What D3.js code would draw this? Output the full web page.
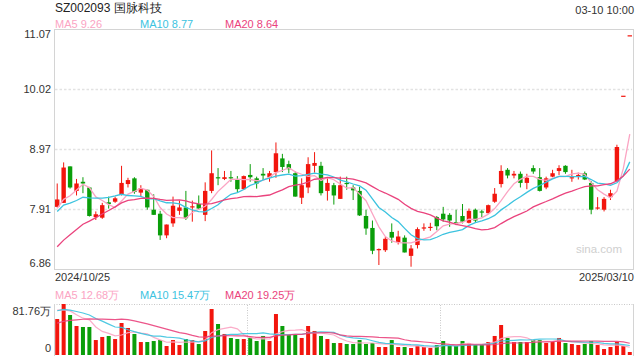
<!DOCTYPE html>
<html><head><meta charset="utf-8">
<script src="https://cdn.jsdelivr.net/npm/d3@7/dist/d3.min.js"></script>
<style>body{margin:0;background:#fff}svg{display:block}text{font-family:"Liberation Sans",Arial,sans-serif}</style>
</head><body><svg id="c" width="640" height="360"></svg>
<script>
const title = "SZ002093 国脉科技";
const timeLabel = "03-10 10:00";
const dateLabels = ["2024/10/25", "2025/03/10"];
const priceTicks = [11.07, 10.02, 8.97, 7.91, 6.86];
const volumeTickMax = 81.76;
const maPeriods = [5, 10, 20];
const priceLegend = [9.26, 8.77, 8.64];
const volumeLegend = [12.68, 15.47, 19.25];

const openP = [7.95,8.02,8.66,8.23,8.39,8.29,7.77,7.76,8.03,8.04,8.16,8.35,8.45,8.20,8.25,7.90,7.83,7.45,7.66,7.88,
7.94,7.95,8.00,7.81,8.23,8.47,8.44,8.47,8.43,8.26,8.51,8.45,8.53,8.47,8.56,8.80,8.70,8.54,8.11,8.29,
8.67,8.67,8.23,8.33,8.09,8.37,8.29,8.23,7.79,7.58,7.19,7.19,7.51,7.33,7.41,7.09,7.28,7.57,7.59,7.77,
7.83,7.81,7.68,7.79,7.67,7.90,7.87,7.84,8.04,8.35,8.60,8.50,8.53,8.37,8.63,8.47,8.29,8.48,8.58,8.67,
8.45,8.50,8.54,8.37,7.92,7.90,8.12,8.40,9.90,10.96];
const highP = [8.36,8.73,8.66,8.44,8.47,8.30,7.87,8.02,8.13,8.13,8.67,8.46,8.47,8.33,8.25,8.17,7.88,7.64,8.13,8.06,
8.23,8.06,8.15,8.38,8.94,8.63,8.58,8.58,8.49,8.50,8.70,8.48,8.63,8.58,9.08,8.88,8.76,8.57,8.45,8.82,
8.91,8.74,8.45,8.37,8.48,8.48,8.33,8.30,7.90,7.71,7.22,7.42,7.66,7.53,7.45,7.28,7.59,7.66,7.67,7.79,
7.95,7.84,7.90,8.00,7.92,7.92,7.90,7.99,8.28,8.68,8.63,8.58,8.57,8.53,8.68,8.63,8.48,8.60,8.68,8.68,
8.60,8.55,8.57,8.40,8.12,8.12,8.25,9.04,9.90,10.96];
const lowP = [7.94,8.02,8.27,8.15,8.19,7.78,7.72,7.74,7.92,8.02,8.15,8.29,8.18,8.14,7.90,7.81,7.37,7.40,7.60,7.81,
7.72,7.69,7.90,7.70,8.19,8.33,8.42,8.39,8.21,8.25,8.39,8.27,8.42,8.39,8.46,8.56,8.54,8.13,8.00,8.19,
8.55,8.15,8.06,7.99,8.09,8.25,8.07,7.79,7.46,7.12,6.93,7.16,7.32,7.29,7.15,6.90,7.22,7.53,7.53,7.54,
7.69,7.60,7.63,7.66,7.66,7.67,7.77,7.83,8.02,8.29,8.45,8.45,8.29,8.26,8.53,8.22,8.26,8.47,8.51,8.53,
8.39,8.43,8.42,7.82,7.90,7.87,8.07,8.40,9.90,10.96];
const closeP = [8.08,8.64,8.29,8.36,8.36,7.79,7.82,7.98,8.00,8.10,8.37,8.42,8.21,8.28,7.94,7.81,7.45,7.64,7.97,7.94,
7.75,7.96,7.92,8.23,8.54,8.46,8.47,8.46,8.26,8.49,8.47,8.36,8.50,8.54,8.89,8.65,8.61,8.13,8.33,8.70,
8.72,8.19,8.37,8.15,8.33,8.35,8.24,7.80,7.57,7.18,7.21,7.39,7.41,7.43,7.15,7.22,7.56,7.59,7.60,7.61,
7.73,7.71,7.66,7.69,7.88,7.71,7.85,7.98,8.18,8.58,8.50,8.53,8.37,8.46,8.57,8.23,8.45,8.54,8.63,8.56,
8.47,8.51,8.43,7.90,7.94,8.09,8.19,9.00,9.90,10.96];
// volume in 万
const volume = [57.7,81.76,64.1,46.5,44.9,44.9,24.0,28.9,30.5,25.6,51.3,43.3,33.7,20.8,20.8,22.4,24.0,14.4,24.0,16.0,
25.6,24.0,17.6,38.5,73.7,49.7,33.7,27.3,25.6,25.6,27.3,22.4,30.5,22.4,65.7,46.5,32.1,32.1,27.3,46.5,
38.5,30.5,25.6,19.2,19.2,17.6,17.6,24.0,17.6,19.2,12.8,12.8,24.0,12.8,12.8,11.2,14.4,12.8,11.2,16.0,
22.4,14.4,14.4,22.4,19.2,16.0,16.0,20.8,30.5,48.1,27.3,20.8,20.8,20.8,24.0,24.0,19.2,20.8,27.3,19.2,
17.6,16.0,17.6,22.4,16.0,9.6,12.8,20.8,14.4,4.8];
// 19 sessions before the first shown one (needed for the moving averages)
const closeHistory = [6.30,6.40,6.50,6.55,6.69,6.60,6.70,6.75,6.85,6.97,7.50,7.95,7.90,7.80,7.91,7.85,7.98,7.86,7.85];
const volumeHistory = [25,28,30,27,32,35,30,33,36,34,60,75,70,68,77,80,72,78,72];

const RED = "#f2150d", GREEN = "#0a9e0a";
const maColors = ["#fba4c3", "#3cc3df", "#ea437d"];

const n = closeP.length;
const idx = d3.range(n);
const svg = d3.select("#c");
svg.append("rect").attr("width",640).attr("height",360).attr("fill","#fff");

const x = d3.scaleBand().domain(idx).range([54, 633]).padding(0);
const cx = i => x(i) + x.bandwidth()/2;
const y = d3.scaleLinear().domain([priceTicks[4], priceTicks[0]]).range([269, 29]);
const yv = d3.scaleLinear().domain([0, volumeTickMax]).range([355, 304]);

function movingAvg(vals, hist, p) {
  const all = hist.concat(vals);
  const off = hist.length;
  return vals.map((_, i) => d3.mean(all.slice(off + i - p + 1, off + i + 1)));
}

// header
svg.append("text").attr("x",55).attr("y",12).attr("font-size",12).attr("fill","#222").text(title);
svg.append("text").attr("x",634).attr("y",14).attr("font-size",11).attr("fill","#333").attr("text-anchor","end").text(timeLabel);
const legX = [55, 140, 225];
maPeriods.forEach((p,k)=>{
  svg.append("text").attr("x",legX[k]).attr("y",28).attr("font-size",11).attr("fill",maColors[k])
    .text("MA"+p+" "+priceLegend[k].toFixed(2));
});

// price grid
[priceTicks[1], priceTicks[2], priceTicks[3]].forEach(v=>{
  svg.append("line").attr("x1",55).attr("x2",632).attr("y1",Math.round(y(v))+0.5).attr("y2",Math.round(y(v))+0.5)
    .attr("stroke","#e2e2e2").attr("stroke-width",1.6).attr("stroke-dasharray","2.5,2");
});
svg.append("rect").attr("x",54.5).attr("y",29.5).attr("width",579).attr("height",240)
  .attr("fill","none").attr("stroke","#d4d4d4");

priceTicks.forEach((v,k)=>{
  let yy = y(v) + 4;
  if (k===0) yy += 5;
  if (k===priceTicks.length-1) yy -= 6;
  svg.append("text").attr("x",51).attr("y",yy).attr("font-size",11).attr("fill","#333")
    .attr("text-anchor","end").text(v.toFixed(2));
});

// candles
const bw = 4.4;
const cg = svg.append("g");
idx.forEach(i=>{
  const up = closeP[i] >= openP[i];
  const col = up ? RED : GREEN;
  cg.append("line").attr("x1",cx(i)).attr("x2",cx(i)).attr("y1",y(highP[i])).attr("y2",y(lowP[i]))
    .attr("stroke",col).attr("stroke-width",1);
  const top = y(Math.max(openP[i],closeP[i])), bot = y(Math.min(openP[i],closeP[i]));
  cg.append("rect").attr("x",cx(i)-bw/2).attr("y",top).attr("width",bw).attr("height",Math.max(1.2,bot-top)).attr("fill",col);
});

// price MAs
const line = d3.line().x((d,i)=>cx(i)).y(d=>y(d));
maPeriods.forEach((p,k)=>{
  const ma = movingAvg(closeP, closeHistory, p);
  svg.append("path").attr("d", line(ma)).attr("fill","none").attr("stroke",maColors[k]).attr("stroke-width",1.3);
});

// watermark
svg.append("text").attr("x",622).attr("y",253).attr("font-size",11.5).attr("fill","#cfcfcf").attr("text-anchor","end").text("sina.com");

// dates
svg.append("text").attr("x",55).attr("y",281).attr("font-size",11).attr("fill","#333").text(dateLabels[0]);
svg.append("text").attr("x",634).attr("y",281).attr("font-size",11).attr("fill","#333").attr("text-anchor","end").text(dateLabels[1]);

// volume legend
maPeriods.forEach((p,k)=>{
  svg.append("text").attr("x",legX[k]).attr("y",299).attr("font-size",11).attr("fill",maColors[k])
    .text("MA"+p+" "+volumeLegend[k].toFixed(2)+"万");
});

// volume frame
svg.append("line").attr("x1",54).attr("x2",634).attr("y1",304.5).attr("y2",304.5).attr("stroke","#c8c8c8").attr("stroke-dasharray","1,1.5");
svg.append("line").attr("x1",54.5).attr("x2",54.5).attr("y1",304).attr("y2",356).attr("stroke","#d4d4d4");
svg.append("line").attr("x1",633.5).attr("x2",633.5).attr("y1",304).attr("y2",356).attr("stroke","#d4d4d4");
[30, 60].forEach(i=>{
  svg.append("line").attr("x1",Math.round(x(i))+0.5).attr("x2",Math.round(x(i))+0.5).attr("y1",305).attr("y2",356)
    .attr("stroke","#c8c8c8").attr("stroke-dasharray","1,1.5");
});
svg.append("text").attr("x",51).attr("y",yv(volumeTickMax)+11).attr("font-size",11).attr("fill","#333").attr("text-anchor","end").text(volumeTickMax.toFixed(2)+"万");
svg.append("text").attr("x",51).attr("y",yv(0)-3).attr("font-size",11).attr("fill","#333").attr("text-anchor","end").text("0");

const vbw = 4;
idx.forEach(i=>{
  const up = closeP[i] >= openP[i];
  svg.append("rect").attr("x",cx(i)-vbw/2).attr("y",yv(volume[i])).attr("width",vbw).attr("height",yv(0)-yv(volume[i]))
    .attr("fill", up ? RED : GREEN);
});
const vline = d3.line().x((d,i)=>cx(i)).y(d=>yv(d));
maPeriods.forEach((p,k)=>{
  const ma = movingAvg(volume, volumeHistory, p);
  svg.append("path").attr("d", vline(ma)).attr("fill","none").attr("stroke",maColors[k]).attr("stroke-width",1.2).attr("opacity",0.9);
});
</script></body></html>
